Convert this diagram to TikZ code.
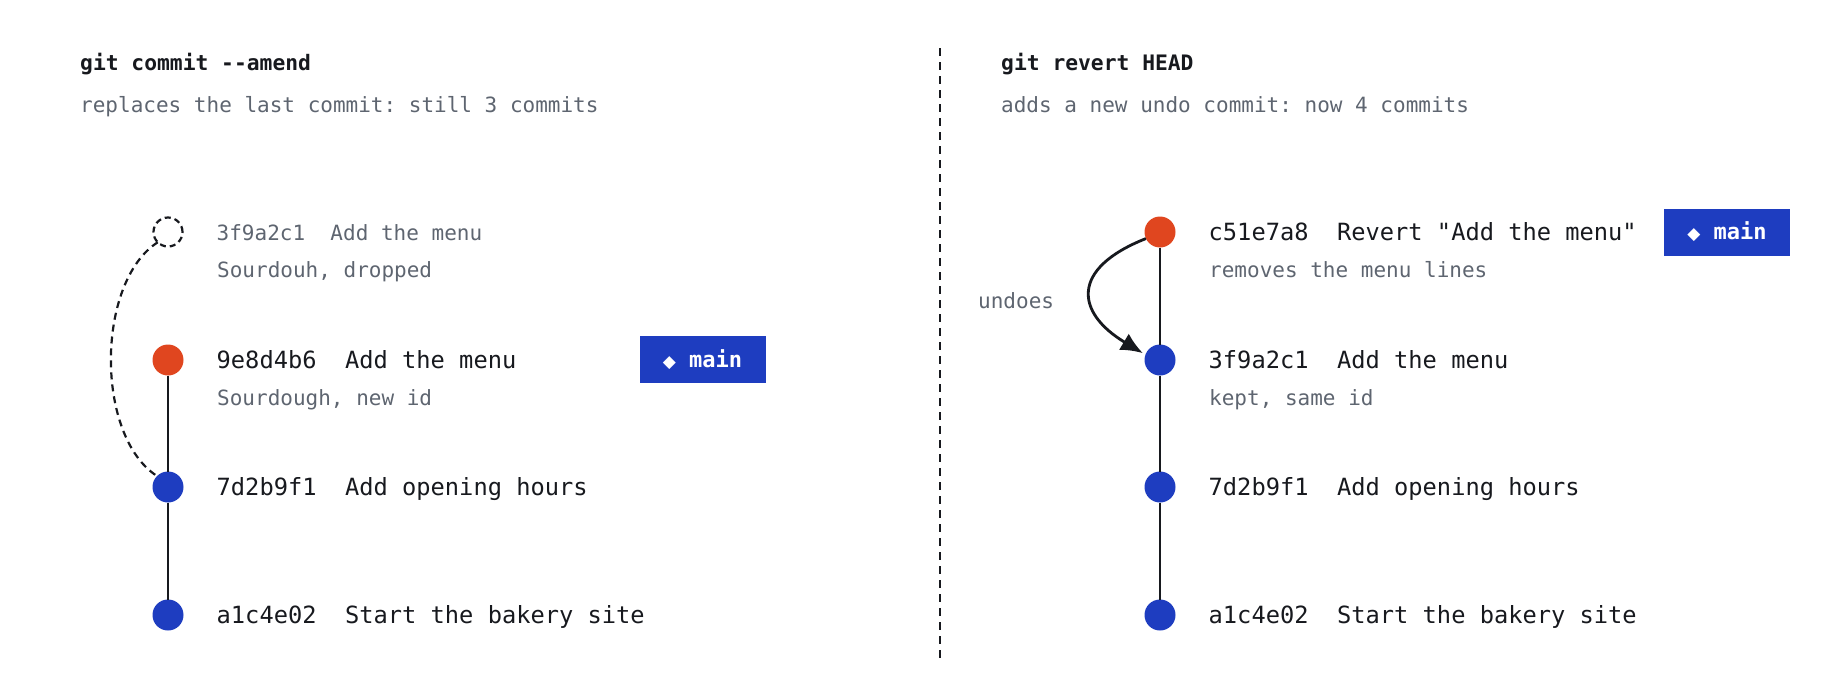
\documentclass[tikz,border=0pt]{standalone}
\usepackage{fontspec}
\setmonofont{DejaVu Sans Mono}
\newfontfamily\symfont{DejaVu Sans}
\usetikzlibrary{arrows.meta}
\usetikzlibrary{positioning}

\definecolor{ink}{HTML}{17191E}
\definecolor{muted}{HTML}{5E6570}
\definecolor{headred}{HTML}{E0461F}
\definecolor{commitblue}{HTML}{1E3DC0}

\begin{document}
\begin{tikzpicture}[x=1pt,y=-1pt,
    dot/.style={circle, fill=commitblue, minimum size=31pt, inner sep=0pt, outer sep=0pt},
    head/.style={dot, fill=headred},
    gone/.style={circle, draw=ink, line width=2.2pt, dash pattern=on 6pt off 4pt, minimum size=29pt, inner sep=0pt, outer sep=0pt},
    msg/.style={anchor=mid west, inner sep=0pt, yshift=-6pt, text=ink, font=\ttfamily\fontsize{23.7}{28}\selectfont},
    note/.style={anchor=mid west, inner sep=0pt, yshift=-6pt, text=muted, font=\ttfamily\fontsize{21}{25}\selectfont},
    title/.style={anchor=mid west, inner sep=0pt, yshift=-6pt, text=ink, font=\ttfamily\bfseries\fontsize{21.3}{25}\selectfont},
    branch/.style={fill=commitblue, text=white, minimum width=126pt, minimum height=47pt, inner sep=0pt, font=\ttfamily\bfseries\fontsize{22}{26}\selectfont},
    trunk/.style={draw=ink, line width=2.8pt}]
  \useasboundingbox (0,0) rectangle (1840,696);

  % left: amend
  \node[title] (t_amend) at (80,62) {git commit --amend};
  \node[note] (s_amend) at (80,104) {replaces the last commit: still 3 commits};

  \node[gone] (a_old) at (168,232) {};
  \node[head] (a_new) at (168,360) {};
  \node[dot] (a_hours) at (168,487) {};
  \node[dot] (a_start) at (168,615) {};

  \node[right=34pt of a_old, note] (m_old) {3f9a2c1\ \ Add the menu};
  \node[note] (n_old) at (217,269) {Sourdouh, dropped};
  \node[right=33pt of a_new, msg] (m_new) {9e8d4b6\ \ Add the menu};
  \node[note] (n_new) at (217,397) {Sourdough, new id};
  \node[right=33pt of a_hours, msg] (m_hours) {7d2b9f1\ \ Add opening hours};
  \node[right=33pt of a_start, msg] (m_start) {a1c4e02\ \ Start the bakery site};

  \node[branch] (b_amend) at (702.5,359.5) {{\symfont\fontsize{17}{20}\selectfont ◆}\ main};

  \path[trunk]
    (a_new) edge (a_hours)
    (a_hours) edge (a_start);
  \draw[ink, line width=2.2pt, dash pattern=on 7pt off 5pt]
    (a_old.225) .. controls +(-62,40) and +(-62,-40) .. (a_hours.135);

  % divider
  \coordinate (div_top) at (940,48);
  \coordinate (div_bot) at (940,658);
  \draw[ink, line width=2.6pt, dash pattern=on 8pt off 6pt] (div_top) -- (div_bot);

  % right: revert
  \node[title] (t_revert) at (1001,62) {git revert HEAD};
  \node[note] (s_revert) at (1001,104) {adds a new undo commit: now 4 commits};

  \node[head] (r_revert) at (1160,232) {};
  \node[dot] (r_menu) at (1160,360) {};
  \node[dot] (r_hours) at (1160,487) {};
  \node[dot] (r_start) at (1160,615) {};

  \node[right=33pt of r_revert, msg] (m_revert) {c51e7a8\ \ Revert "Add the menu"};
  \node[note] (n_revert) at (1209,269) {removes the menu lines};
  \node[right=33pt of r_menu, msg] (m_menu) {3f9a2c1\ \ Add the menu};
  \node[note] (n_menu) at (1209,397) {kept, same id};
  \node[right=33pt of r_hours, msg] (m_rhours) {7d2b9f1\ \ Add opening hours};
  \node[right=33pt of r_start, msg] (m_rstart) {a1c4e02\ \ Start the bakery site};

  \node[branch] (b_revert) at (1727,232) {{\symfont\fontsize{17}{20}\selectfont ◆}\ main};
  \node[note] (undo_lbl) at (978,300) {undoes};

  \path[trunk]
    (r_revert) edge (r_menu)
    (r_menu) edge (r_hours)
    (r_hours) edge (r_start);
  \draw[ink, line width=2.8pt, -{Latex[length=22pt,width=19pt]}, shorten >=3pt]
    (r_revert.205) .. controls +(-76,30) and +(-70,-42) .. (r_menu.160);
\end{tikzpicture}
\end{document}
